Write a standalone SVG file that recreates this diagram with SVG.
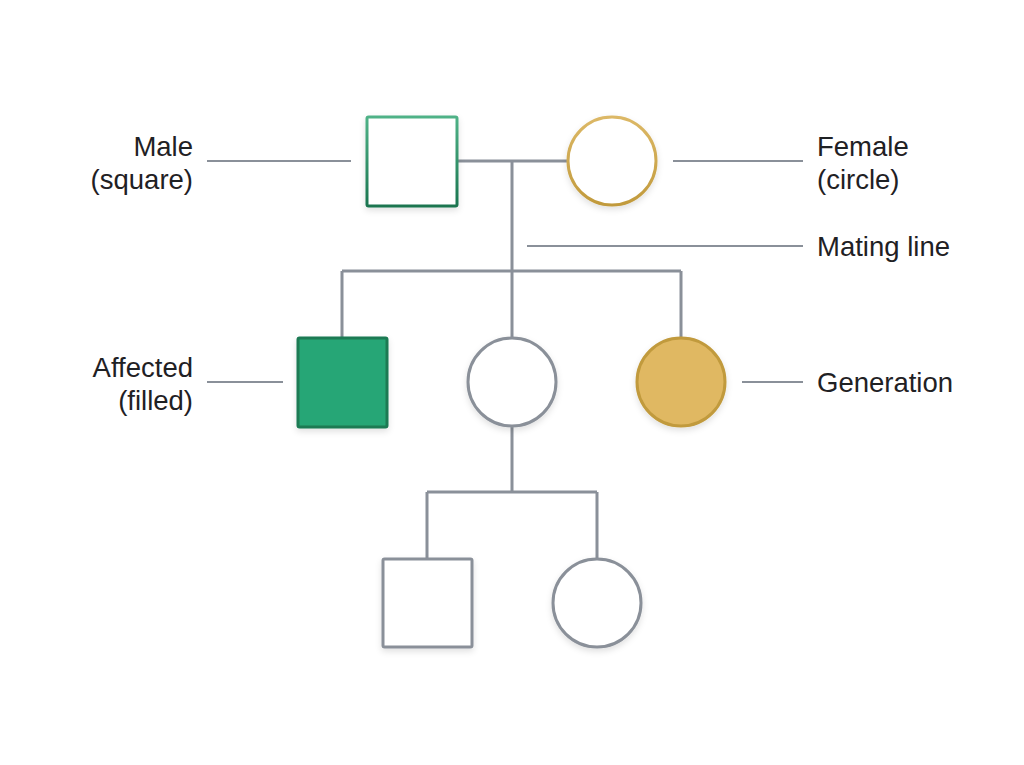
<svg xmlns="http://www.w3.org/2000/svg" width="1024" height="765" viewBox="0 0 1024 765">
<style>
.lbl{font-family:"Liberation Sans",Arial,sans-serif;font-size:27.5px;fill:#1f2124;}
.r{text-anchor:end;}
.line{stroke:#8a9099;stroke-width:3;fill:none;}
.lead{stroke:#8a9099;stroke-width:2;fill:none;}
.grey{fill:#fff;stroke:#8a9099;stroke-width:3;}
</style>
<defs>
<linearGradient id="gGreen" x1="0" y1="0" x2="0" y2="1"><stop offset="0" stop-color="#4fb287"/><stop offset="1" stop-color="#1a7550"/></linearGradient>
<linearGradient id="gGold" x1="0" y1="0" x2="0" y2="1"><stop offset="0" stop-color="#dcb866"/><stop offset="1" stop-color="#c19a3c"/></linearGradient>
<filter id="sh" x="-20%" y="-20%" width="140%" height="150%"><feDropShadow dx="0" dy="3" stdDeviation="3" flood-color="#000" flood-opacity="0.12"/></filter>
</defs>
<rect width="1024" height="765" fill="#fff"/>
<g id="connectors">
<path class="line" d="M457 161H567M512 161V271M342 271H681M342 271V338M512 271V338M681 271V338M512 427V492M427 492H597M427 492V559M597 492V559"/>
<path class="lead" d="M207 161H351M673 161H803M527 246H803M207 382H283M742 382H803"/>
</g>
<g id="male"><rect x="367" y="117" width="90" height="89" fill="#fff" stroke="url(#gGreen)" stroke-width="3" rx="1.5" filter="url(#sh)"/></g>
<g id="female"><circle cx="612" cy="161" r="44" fill="#fff" stroke="url(#gGold)" stroke-width="3" filter="url(#sh)"/></g>
<g id="affected"><rect x="298" y="338" width="89" height="89" fill="#27a676" stroke="#1c7a53" stroke-width="3" rx="1.5" filter="url(#sh)"/></g>
<g id="daughter"><circle class="grey" cx="512" cy="382" r="44" filter="url(#sh)"/></g>
<g id="gen"><circle cx="681" cy="382" r="44" fill="#e0b862" stroke="#c19a3c" stroke-width="3" filter="url(#sh)"/></g>
<g id="grandson"><rect class="grey" x="383" y="559" width="89" height="88" rx="1.5" filter="url(#sh)"/></g>
<g id="granddaughter"><circle class="grey" cx="597" cy="603" r="44" filter="url(#sh)"/></g>
<g id="labels">
<text class="lbl r" x="193" y="156">Male</text>
<text class="lbl r" x="193" y="189">(square)</text>
<text class="lbl" x="817" y="156">Female</text>
<text class="lbl" x="817" y="189">(circle)</text>
<text class="lbl" x="817" y="256">Mating line</text>
<text class="lbl r" x="193" y="377">Affected</text>
<text class="lbl r" x="193" y="410">(filled)</text>
<text class="lbl" x="817" y="392">Generation</text>
</g>
</svg>
